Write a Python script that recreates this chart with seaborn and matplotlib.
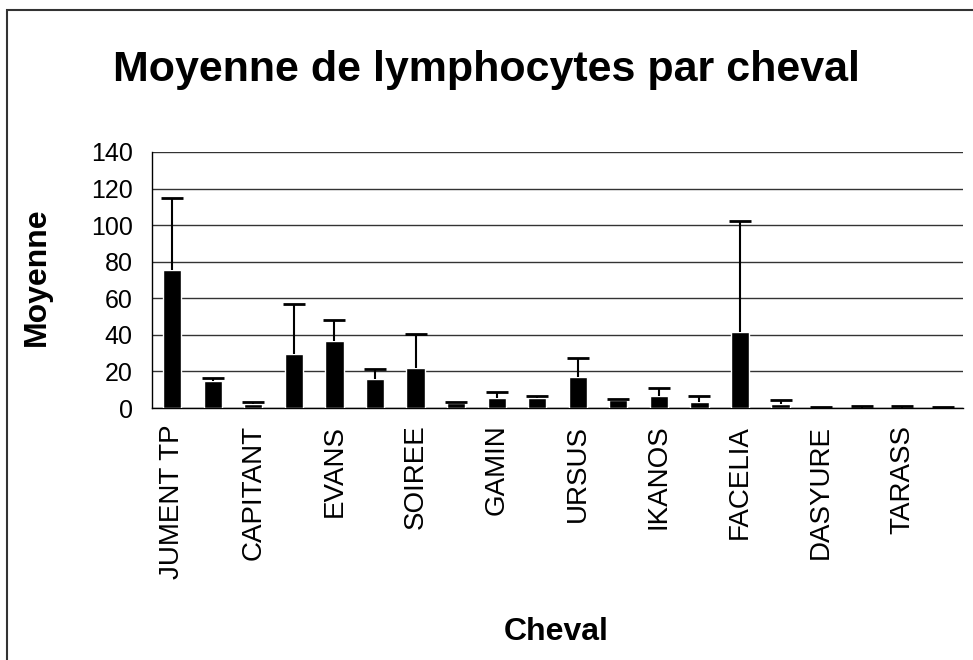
"""
Moyenne de lymphocytes par cheval -- bar chart with upper error bars
"""
import numpy as np
import pandas as pd
import matplotlib
matplotlib.use("Agg")
import matplotlib.pyplot as plt
from matplotlib.patches import Rectangle
import seaborn as sns

# ---------------- Data ----------------
# only every other horse name is printed on the axis
tick_labels = ["JUMENT TP", "", "CAPITANT", "", "EVANS", "", "SOIREE", "",
               "GAMIN", "", "URSUS", "", "IKANOS", "", "FACELIA", "",
               "DASYURE", "", "TARASS", ""]
horse_idx = list(range(1, 21))
means = [75.7, 14.6, 2.4, 29.8, 36.4, 15.6, 21.9, 2.7, 5.7, 5.7,
         16.7, 4.6, 6.8, 3.5, 41.7, 2.4, 0.2, 0.1, 0.1, 0.2]
errs = [39.4, 1.8, 0.7, 27.1, 11.7, 6.0, 18.7, 0.8, 2.9, 0.9,
        10.5, 0.3, 4.0, 3.1, 60.3, 2.2, 0.1, 0.8, 0.8, 0.1]

df = pd.DataFrame({"Cheval": horse_idx, "Moyenne": means})

sns.set_style("white")
plt.rcParams["font.family"] = ["Liberation Sans", "DejaVu Sans"]
plt.rcParams["text.color"] = "black"
plt.rcParams["axes.labelcolor"] = "black"
plt.rcParams["xtick.color"] = "black"
plt.rcParams["ytick.color"] = "black"

fig = plt.figure(figsize=(9.73, 6.6), dpi=100)
ax = fig.add_axes([152 / 973, 1 - 408 / 660, (963 - 152) / 973, (408 - 152) / 660])

sns.barplot(data=df, x="Cheval", y="Moyenne", color="black", width=0.45,
            saturation=1, errorbar=None, ax=ax, zorder=3)

# upper-only error bars, placed on the bars seaborn drew
centers = [p.get_x() + p.get_width() / 2 for p in ax.patches]
_, caps, _ = ax.errorbar(centers, means, yerr=[np.zeros(len(errs)), errs], fmt="none",
                         ecolor="black", elinewidth=1.5, capsize=8, capthick=2, zorder=4)
caps[0].set_visible(False)  # no cap on the (zero length) lower side

# ---------------- Axes styling ----------------
ax.set_ylim(0, 140)
ax.set_xlim(-0.5, len(means) - 0.5)
ax.set_yticks(range(0, 141, 20))
ax.yaxis.grid(True, color="#333333", linewidth=1)
ax.set_axisbelow(True)
ax.tick_params(axis="y", labelsize=18, direction="out", length=8, width=1,
               color="#333333", labelcolor="black", pad=6)

ax.set_xticks(range(len(means)))
ax.set_xticklabels(tick_labels, rotation=90, fontsize=20)
ax.tick_params(axis="x", which="major", length=0, pad=12, labelcolor="black")
ax.set_xticks(np.arange(-0.5, len(means), 1.0), minor=True)
ax.tick_params(axis="x", which="minor", direction="out", length=8, width=1, color="#555555")

for side in ["top", "right"]:
    ax.spines[side].set_visible(False)
for side in ["left", "bottom"]:
    ax.spines[side].set_color("black")
    ax.spines[side].set_linewidth(1)

ax.set_xlabel("Cheval", fontsize=23, fontweight="bold", labelpad=0)
ax.xaxis.set_label_coords((556 - 152) / (963 - 152), -(617 - 408) / (408 - 152))
ax.set_ylabel("Moyenne", fontsize=23, fontweight="bold")
ax.yaxis.set_label_coords(-(152 - 52) / (963 - 152), (408 - 277) / (408 - 152))

fig.text(0.5, 1 - 70 / 660, "Moyenne de lymphocytes par cheval", ha="center", va="center",
         fontsize=31, fontweight="bold", color="black")

# chart-area border (runs off the right and bottom edges)
fig.add_artist(Rectangle((6.5 / 973, -0.1), 1.2, (660 - 10.5) / 660 + 0.1,
                         transform=fig.transFigure, fill=False, edgecolor="#333333", linewidth=1.5))

fig.savefig("out.png", dpi=100)
plt.close(fig)
